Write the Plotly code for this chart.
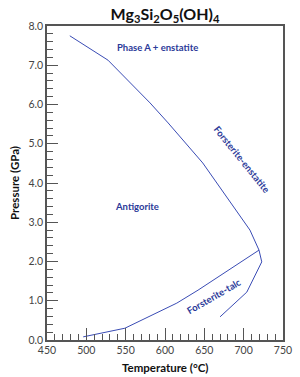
import plotly.graph_objects as go

# Boundary curves (Temperature °C, Pressure GPa)
upper_T = [479, 527.5, 581, 604, 648, 679, 708, 719.5, 723, 704, 670]
upper_P = [7.75, 7.13, 6.04, 5.53, 4.51, 3.64, 2.80, 2.29, 1.99, 1.22, 0.59]

lower_T = [496, 549, 615, 642, 719.5]
lower_P = [0.08, 0.30, 0.94, 1.27, 2.29]

# Field labels
label_text = ["Phase A + enstatite", "Antigorite", "Forsterite-enstatite", "Forsterite-talc"]
label_T = [590, 564, 698, 662]
label_P = [7.44, 3.41, 4.61, 1.10]
label_angle = [0, 0, 51, -30]

x_ticks = [450, 500, 550, 600, 650, 700, 750]
y_ticks = [0, 1, 2, 3, 4, 5, 6, 7, 8]

line_color = "#3a4cb5"
text_color = "#2b3a99"
axis_color = "#555555"
font_family = "Lato, Open Sans, sans-serif"

fig = go.Figure()
fig.add_trace(go.Scatter(x=upper_T, y=upper_P, mode="lines",
                         line=dict(color=line_color, width=1), showlegend=False,
                         hoverinfo="skip"))
fig.add_trace(go.Scatter(x=lower_T, y=lower_P, mode="lines",
                         line=dict(color=line_color, width=1), showlegend=False,
                         hoverinfo="skip"))

for t, x, y, a in zip(label_text, label_T, label_P, label_angle):
    fig.add_annotation(x=x, y=y, text="<b>" + t + "</b>", textangle=a, showarrow=False,
                       font=dict(family=font_family, size=9.5, color=text_color))

# x-axis title placed below tick labels
fig.add_annotation(x=0.5, y=-0.086, xref="paper", yref="paper",
                   text="<b>Temperature (°C)</b>", showarrow=False,
                   xanchor="center", yanchor="middle",
                   font=dict(family=font_family, size=11.5, color="#111111"))

fig.update_layout(
    width=300, height=377,
    margin=dict(l=47, r=17, t=26, b=37),
    paper_bgcolor="white", plot_bgcolor="white",
    font=dict(family=font_family),
    title=dict(text="<b>Mg<sub>3</sub>Si<sub>2</sub>O<sub>5</sub>(OH)<sub>4</sub></b>",
               x=0.55, xanchor="center", y=0.962, yanchor="middle",
               font=dict(family=font_family, size=16, color="#111111")),
)
fig.update_xaxes(
    range=[450, 750], tickvals=x_ticks, ticks="inside", ticklen=12, tickwidth=1,
    tickcolor=axis_color, showline=True, linecolor=axis_color, linewidth=1.5,
    mirror=True, showgrid=False, zeroline=False, automargin=False,
    tickfont=dict(family=font_family, size=10.5, color="#444444"),
    minor=dict(dtick=10, ticks="inside", ticklen=6, tickcolor=axis_color, showgrid=False),
)
fig.update_yaxes(
    range=[0, 8], tickvals=y_ticks, tickformat=".1f", ticks="inside", ticklen=11,
    tickwidth=1, tickcolor=axis_color, showline=True, linecolor=axis_color,
    linewidth=1.5, mirror=True, showgrid=False, zeroline=False,
    tickfont=dict(family=font_family, size=10.5, color="#444444"),
    minor=dict(dtick=0.2, ticks="inside", ticklen=6, tickcolor=axis_color, showgrid=False),
    title=dict(text="<b>Pressure (GPa)</b>", standoff=6,
               font=dict(family=font_family, size=11.5, color="#111111")),
)

fig.write_html("out.html")
